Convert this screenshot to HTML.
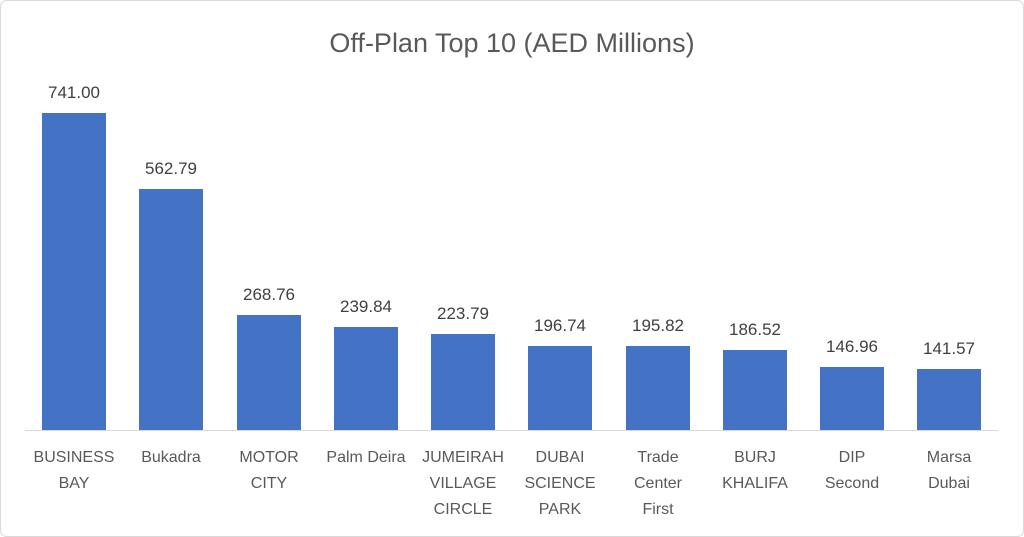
<!DOCTYPE html>
<html><head><style>
body{margin:0;background:#fff;}
svg{display:block;font-family:"Liberation Sans",Calibri,sans-serif;}
</style></head><body>
<svg width="1024" height="537" viewBox="0 0 1024 537">
<rect x="0.5" y="0.5" width="1023" height="536" rx="6" fill="#fff" stroke="#d9d9d9"/>
<text x="512" y="52" text-anchor="middle" font-size="27" fill="#595959">Off-Plan Top 10 (AED Millions)</text>
<line x1="25" y1="430.5" x2="998" y2="430.5" stroke="#d9d9d9" stroke-width="1"/>
<g fill="#4472c4">
<rect x="42" y="113" width="64" height="317"/>
<rect x="139" y="189" width="64" height="241"/>
<rect x="237" y="315" width="64" height="115"/>
<rect x="334" y="327" width="64" height="103"/>
<rect x="431" y="334" width="64" height="96"/>
<rect x="528" y="346" width="64" height="84"/>
<rect x="626" y="346" width="64" height="84"/>
<rect x="723" y="350" width="64" height="80"/>
<rect x="820" y="367" width="64" height="63"/>
<rect x="917" y="369" width="64" height="61"/>
</g>
<g font-size="17" fill="#404040" text-anchor="middle">
<text x="74" y="98">741.00</text>
<text x="171" y="174">562.79</text>
<text x="269" y="300">268.76</text>
<text x="366" y="312">239.84</text>
<text x="463" y="319">223.79</text>
<text x="560" y="331">196.74</text>
<text x="658" y="331">195.82</text>
<text x="755" y="335">186.52</text>
<text x="852" y="352">146.96</text>
<text x="949" y="354">141.57</text>
</g>
<g font-size="16" fill="#595959" text-anchor="middle">
<text x="74" y="462">BUSINESS</text><text x="74" y="488">BAY</text>
<text x="171" y="462">Bukadra</text>
<text x="269" y="462">MOTOR</text><text x="269" y="488">CITY</text>
<text x="366" y="462">Palm Deira</text>
<text x="463" y="462">JUMEIRAH</text><text x="463" y="488">VILLAGE</text><text x="463" y="514">CIRCLE</text>
<text x="560" y="462">DUBAI</text><text x="560" y="488">SCIENCE</text><text x="560" y="514">PARK</text>
<text x="658" y="462">Trade</text><text x="658" y="488">Center</text><text x="658" y="514">First</text>
<text x="755" y="462">BURJ</text><text x="755" y="488">KHALIFA</text>
<text x="852" y="462">DIP</text><text x="852" y="488">Second</text>
<text x="949" y="462">Marsa</text><text x="949" y="488">Dubai</text>
</g>
</svg>
</body></html>
